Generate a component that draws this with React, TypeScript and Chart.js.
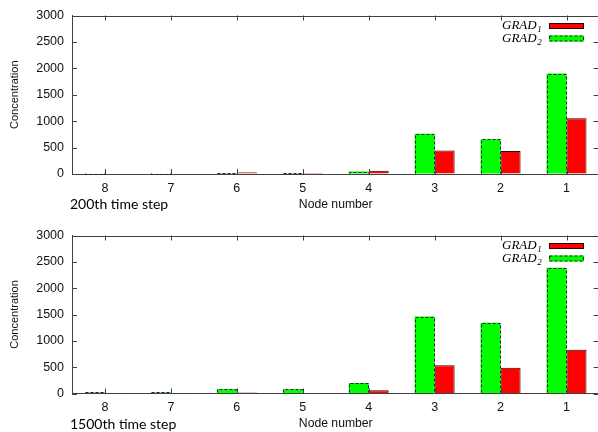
import React, { useEffect, useRef } from 'react';
import { Chart, registerables } from 'chart.js';

Chart.register(...registerables);

// ---- data ----
const nodeLabels = ['8', '7', '6', '5', '4', '3', '2', '1'];
const grad1Step200 = [0, 0, 35, 20, 60, 445, 435, 1055];
const grad2Step200 = [0, 0, 15, 15, 45, 760, 660, 1900];
const grad1Step1500 = [5, 5, 20, 10, 60, 535, 490, 830];
const grad2Step1500 = [20, 20, 80, 80, 200, 1460, 1345, 2390];
const yMin = 0;
const yMax = 3000;
const yStep = 500;
const seriesNames = ['GRAD', 'GRAD'];
const seriesSubs = ['1', '2'];

const AXIS = '#404040';
const RED = '#ff0000';
const GREEN = '#00ff00';
const SANS = '"Liberation Sans", Arial, Helvetica, sans-serif';

type PanelProps = {
  grad1: number[];
  grad2: number[];
  caption: string;
  top: number;
  height: number;
  areaTop: number;
  areaBottom: number;
};

function Panel({ grad1, grad2, caption, top, height, areaTop, areaBottom }: PanelProps) {
  const ref = useRef<HTMLCanvasElement>(null);

  useEffect(() => {
    const canvas = ref.current;
    if (!canvas) return;
    const W = 606;
    const RIGHT = 599.5;
    const axisH = height - areaBottom;
    const nodeTitleY = areaBottom + 30.5;
    const titleLine = 12.2 * 1.2;
    const nodeTitlePad = (height - nodeTitleY) - titleLine / 2;

    const overlay = {
      id: 'gnuplotOverlay',
      afterDatasetsDraw(chart: any) {
        const ctx = chart.ctx as CanvasRenderingContext2D;
        const meta = chart.getDatasetMeta(0);
        ctx.save();
        ctx.strokeStyle = '#1c2a1c';
        ctx.lineWidth = 1;
        ctx.setLineDash([3, 2]);
        meta.data.forEach((el: any) => {
          const p = el.getProps(['x', 'y', 'base', 'width'], true);
          const l = Math.round(p.x - p.width / 2) + 0.5;
          const r = Math.round(p.x + p.width / 2) - 0.5;
          const t = Math.round(p.y) + 0.5;
          const b = Math.round(p.base) - 0.5;
          ctx.beginPath();
          ctx.moveTo(l, b);
          ctx.lineTo(l, t);
          ctx.lineTo(r, t);
          ctx.lineTo(r, b);
          ctx.stroke();
        });
        ctx.restore();
      },
      afterDraw(chart: any) {
        const ctx = chart.ctx as CanvasRenderingContext2D;
        const a = chart.chartArea;
        const xs = chart.scales.x;
        const ys = chart.scales.y;
        ctx.save();
        ctx.strokeStyle = AXIS;
        ctx.lineWidth = 1;
        // frame top & right
        ctx.beginPath();
        ctx.moveTo(Math.round(a.left) + 0.5, Math.round(a.top) + 0.5);
        ctx.lineTo(RIGHT, Math.round(a.top) + 0.5);
        ctx.lineTo(RIGHT, Math.round(a.bottom) + 0.5);
        ctx.stroke();
        // inward y ticks
        ys.ticks.forEach((t: any) => {
          const y = Math.round(ys.getPixelForValue(t.value)) + 0.5;
          ctx.beginPath();
          ctx.moveTo(a.left, y);
          ctx.lineTo(a.left + 5, y);
          ctx.moveTo(RIGHT - 6, y);
          ctx.lineTo(RIGHT, y);
          ctx.stroke();
        });
        // inward x ticks
        nodeLabels.forEach((_, i) => {
          const x = Math.round(xs.getPixelForValue(i)) + 0.5;
          ctx.beginPath();
          ctx.moveTo(x, a.top);
          ctx.lineTo(x, a.top + 5);
          ctx.moveTo(x, a.bottom);
          ctx.lineTo(x, a.bottom - 5);
          ctx.stroke();
        });
        // legend
        const rows = [
          { fill: RED, dashed: false, y: 23 },
          { fill: GREEN, dashed: true, y: 35.5 },
        ];
        rows.forEach((row, i) => {
          ctx.fillStyle = '#000';
          ctx.textAlign = 'left';
          ctx.textBaseline = 'alphabetic';
          ctx.font = 'italic 13px "Liberation Serif", "Times New Roman", serif';
          const base = row.y + 6;
          const tx = 502;
          ctx.fillText(seriesNames[i], tx, base);
          const w = ctx.measureText(seriesNames[i]).width;
          ctx.font = 'italic 9px "Liberation Serif", "Times New Roman", serif';
          ctx.fillText(seriesSubs[i], tx + w + 0.5, base + 3);
          ctx.fillStyle = row.fill;
          ctx.fillRect(549, row.y, 35, 6);
          ctx.strokeStyle = row.dashed ? '#1c2a1c' : '#300000';
          ctx.setLineDash(row.dashed ? [3, 2] : []);
          ctx.strokeRect(549.5, row.y + 0.5, 34, 5);
          ctx.setLineDash([]);
        });
        // caption
        ctx.fillStyle = '#000';
        ctx.textAlign = 'left';
        ctx.textBaseline = 'alphabetic';
        ctx.font = '14px Lato, "Open Sans", sans-serif';
        ctx.fillText(caption, 70, a.bottom + 35);
        ctx.restore();
      },
    };

    const chart = new Chart(canvas, {
      type: 'bar',
      data: {
        labels: nodeLabels,
        datasets: [
          {
            label: 'GRAD2',
            data: grad2,
            backgroundColor: GREEN,
            borderWidth: 0,
          },
          {
            label: 'GRAD1',
            data: grad1,
            backgroundColor: RED,
            borderColor: '#300000',
            borderWidth: 1,
          },
        ],
      },
      options: {
        responsive: false,
        maintainAspectRatio: false,
        animation: false,
        devicePixelRatio: 1,
        datasets: {
          bar: { categoryPercentage: 40 / 66, barPercentage: 1 },
        },
        layout: { padding: { top: areaTop, right: W - RIGHT, left: 0, bottom: 0 } },
        plugins: {
          legend: { display: false },
          tooltip: { enabled: false },
          title: { display: false },
        },
        scales: {
          x: {
            type: 'category',
            offset: true,
            grid: { display: true, drawOnChartArea: false, drawTicks: false, color: AXIS },
            border: { display: true, color: AXIS, width: 1 },
            ticks: { padding: 7, color: '#111', font: { family: SANS, size: 12.5 }, maxRotation: 0 },
            title: {
              display: true,
              text: 'Node number',
              color: '#111',
              font: { family: SANS, size: 12.2 },
              padding: { top: 0, bottom: nodeTitlePad },
            },
            afterFit: (s: any) => {
              s.height = axisH;
            },
          },
          y: {
            min: yMin,
            max: yMax,
            grid: { display: true, drawOnChartArea: false, drawTicks: false, color: AXIS },
            border: { display: true, color: AXIS, width: 1 },
            ticks: {
              stepSize: yStep,
              padding: 8,
              color: '#111',
              font: { family: SANS, size: 12.5 },
              callback: (v: any) => String(v),
            },
            title: {
              display: true,
              text: 'Concentration',
              color: '#111',
              font: { family: SANS, size: 11 },
              padding: { top: 8, bottom: 0 },
            },
            afterFit: (s: any) => {
              s.width = 72;
            },
          },
        },
      },
      plugins: [overlay],
    } as any);

    return () => chart.destroy();
  }, [grad1, grad2, caption, height, areaTop, areaBottom]);

  return (
    <canvas
      ref={ref}
      width={606}
      height={height}
      style={{ position: 'absolute', left: 0, top, width: 606, height, display: 'block' }}
    />
  );
}

export default function App() {
  return (
    <div
      style={{
        position: 'absolute',
        left: 0,
        top: 0,
        width: 598,
        height: 432,
        overflow: 'hidden',
        background: '#fff',
      }}
    >
      <Panel grad1={grad1Step200} grad2={grad2Step200} caption="200th time step" top={0} height={220} areaTop={15} areaBottom={174} />
      <Panel grad1={grad1Step1500} grad2={grad2Step1500} caption="1500th time step" top={220} height={212} areaTop={15} areaBottom={173.5} />
    </div>
  );
}
